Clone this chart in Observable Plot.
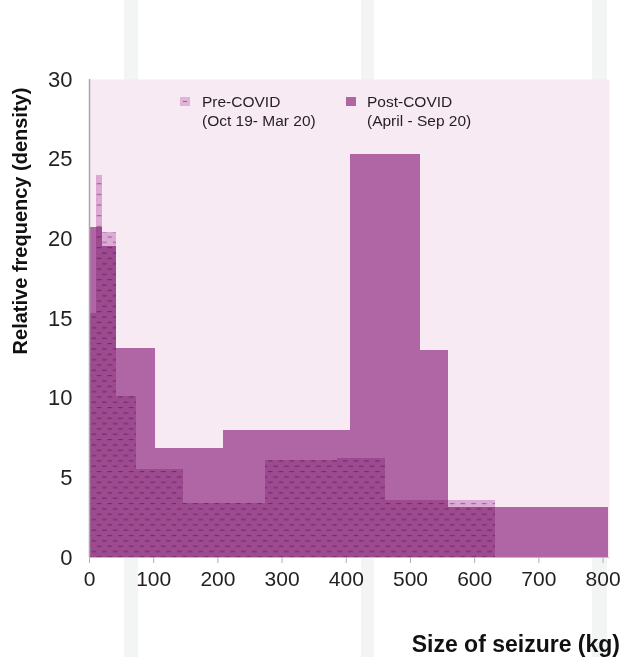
<!DOCTYPE html>
<html>
<head>
<meta charset="utf-8">
<script src="https://cdn.jsdelivr.net/npm/d3@7"></script>
<script src="https://cdn.jsdelivr.net/npm/@observablehq/plot@0.6"></script>
<style>
  html, body { margin: 0; padding: 0; background: #ffffff; }
  #wrap { position: relative; width: 624px; height: 657px; overflow: hidden; font-family: "Liberation Sans", Arial, sans-serif; }
  .stripe { position: absolute; top: 0; height: 657px; background: #f3f5f5; }
  #chart { position: absolute; left: 0; top: 0; }
  #chart svg { background: transparent; }
  .leg { position: absolute; top: 92px; font-size: 15.5px; line-height: 19px; color: #231f20; }
  .sw { position: absolute; top: 97px; width: 10px; height: 9px; }
  g[aria-label="x-axis tick label"] text { font-family: "Liberation Sans Narrow", "Liberation Sans", sans-serif; font-size: 21px; }
</style>
</head>
<body>
<div id="wrap">
  <div class="stripe" style="left:124px;width:14px"></div>
  <div class="stripe" style="left:361px;width:13px"></div>
  <div class="stripe" style="left:592px;width:15px"></div>
  <div id="chart"></div>
  <div class="sw" style="left:180px;background:#e0b4da;"><div style="position:absolute;left:3px;top:4px;width:4px;height:1px;background:#8a6a86"></div></div>
  <div class="leg" style="left:202px">Pre-COVID<br>(Oct 19- Mar 20)</div>
  <div class="sw" style="left:346px;background:#b066a5;"></div>
  <div class="leg" style="left:367px">Post-COVID<br>(April - Sep 20)</div>
</div>
<script>
// Pre-COVID histogram bins: start (kg), end (kg), density
const preX1 = [0, 11, 21, 42, 73, 146, 274, 386, 461];
const preX2 = [11, 21, 42, 73, 146, 274, 386, 461, 632];
const preY  = [15.3, 24.0, 20.4, 10.1, 5.5, 3.38, 6.1, 6.2, 3.6];

// Post-COVID histogram bins
const postX1 = [0, 21, 42, 103, 208, 406, 516, 559];
const postX2 = [21, 42, 103, 208, 406, 516, 559, 809];
const postY  = [20.7, 19.5, 13.1, 6.85, 7.95, 25.3, 13.0, 3.13];

const xTicks = [0, 100, 200, 300, 400, 500, 600, 700, 800];
const yTicks = [0, 5, 10, 15, 20, 25, 30];

const pre = preX1.map((d, i) => ({x1: d, x2: preX2[i], y: preY[i]}));
const post = postX1.map((d, i) => ({x1: d, x2: postX2[i], y: postY[i]}));

const chart = Plot.plot({
  width: 624,
  height: 657,
  marginLeft: 89,
  marginRight: 15,
  marginTop: 79,
  marginBottom: 100,
  style: {fontFamily: "'Liberation Sans', Arial, sans-serif", fontSize: "22px", color: "#231f20", background: "transparent"},
  x: {domain: [0, 810]},
  y: {domain: [0, 30]},
  marks: [
    Plot.frame({fill: "#f8eaf3", stroke: null}),
    Plot.rectY(post, {x1: "x1", x2: "x2", y: "y", fill: "#b066a5", shapeRendering: "crispEdges"}),
    Plot.rectY(pre, {x1: "x1", x2: "x2", y: "y", fill: "url(#prePat)", mixBlendMode: "multiply", shapeRendering: "crispEdges"}),
    Plot.ruleY([0], {stroke: "#bdbdbd", strokeWidth: 1.2}),
    Plot.ruleX([0], {stroke: "#a9a9a9", strokeWidth: 1.5}),
    Plot.axisX({ticks: xTicks, tickSize: 6, tickPadding: 8, stroke: "#b0b0b0", label: null, tickFormat: d => String(d)}),
    Plot.axisY({ticks: yTicks, tickSize: 0, tickPadding: 17, label: null, tickFormat: d => String(d)})
  ]
});

const svg = d3.select(chart);
const defs = svg.insert("defs", ":first-child");
const pat = defs.append("pattern")
  .attr("id", "prePat")
  .attr("patternUnits", "userSpaceOnUse")
  .attr("width", 10.7)
  .attr("height", 10.66);
pat.append("rect").attr("width", 10.7).attr("height", 10.66).attr("fill", "#e4b9e0");
pat.append("rect").attr("x", 0.5).attr("y", 2).attr("width", 4.6).attr("height", 1.1).attr("fill", "#9a6e95");
pat.append("rect").attr("x", 5.85).attr("y", 7.33).attr("width", 4.6).attr("height", 1.1).attr("fill", "#9a6e95");

// blend the pre-COVID layer with what is below it; avoid seams between adjacent bins
svg.selectAll("g[aria-label='rect']").style("shape-rendering", "crispEdges");
svg.selectAll("g[aria-label='rect']").filter((d, i) => i === 1).style("mix-blend-mode", "multiply");

// axis titles
svg.append("text")
  .attr("transform", "translate(27,221) rotate(-90)")
  .attr("text-anchor", "middle")
  .style("font-family", "'Liberation Sans', Arial, sans-serif")
  .style("font-weight", "bold")
  .style("font-size", "20px")
  .attr("fill", "#111")
  .text("Relative frequency (density)");

svg.append("text")
  .attr("x", 620)
  .attr("y", 652)
  .attr("text-anchor", "end")
  .style("font-family", "'Liberation Sans', Arial, sans-serif")
  .style("font-weight", "bold")
  .style("font-size", "23px")
  .attr("fill", "#111")
  .text("Size of seizure (kg)");

document.getElementById("chart").appendChild(chart);
</script>
</body>
</html>
